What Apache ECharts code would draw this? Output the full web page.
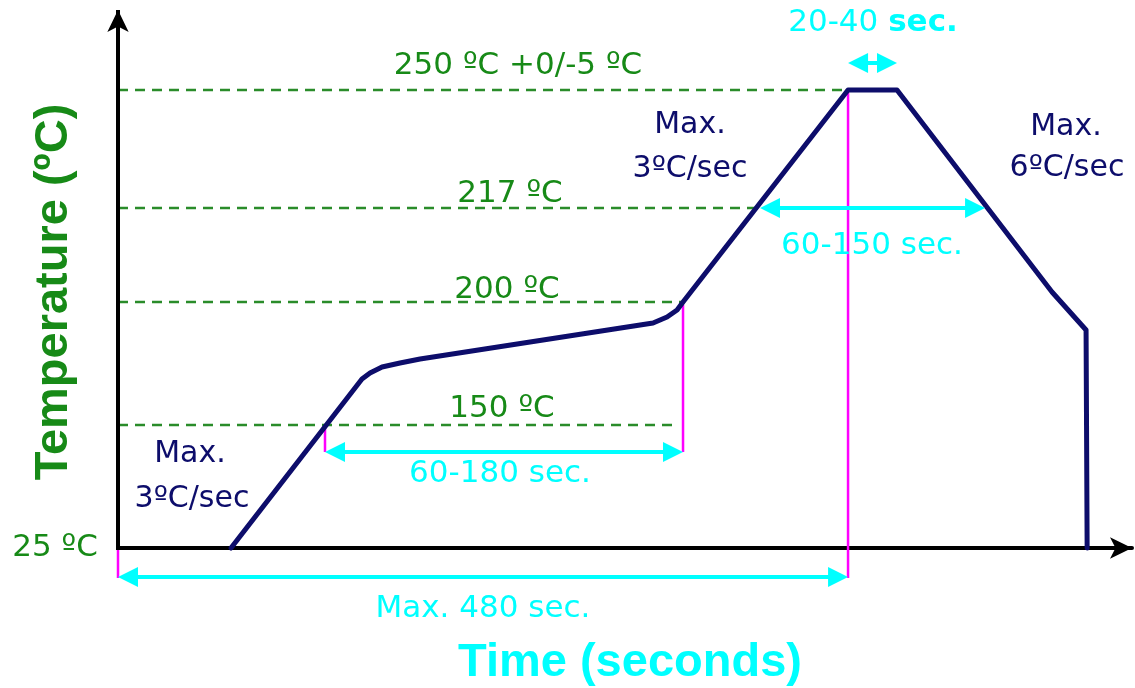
<!DOCTYPE html>
<html>
<head>
<meta charset="utf-8">
<script src="https://cdn.jsdelivr.net/npm/echarts@6/dist/echarts.min.js"></script>
<style>
html,body{margin:0;padding:0;background:#ffffff;}
#chart{width:1135px;height:688px;}
</style>
</head>
<body>
<div id="chart"></div>
<script>
// ---------------- data (schematic units: time-like x, height-above-25ºC y) ----------------
const levelLabels  = ['25 ºC', '150 ºC', '200 ºC', '217 ºC', '250 ºC +0/-5 ºC'];
const levelHeights = [0, 123, 246, 340, 458];
const levelLineEnds = [null, 367.6, 371.5, 422.1, 480];

const profileTime = [74.3, 160.4, 165.7, 173.6, 185.4, 198.6, 351.8, 361.0, 367.6, 371.5, 480, 512.2, 614.1, 636.5, 637.2];
const profileTemp = [0, 169, 175, 181, 185, 189, 225, 231, 238, 246, 458, 458, 256, 218, 0];

const intervalLabels = ['60-180 sec.', 'Max. 480 sec.', '60-150 sec.', '20-40 '];
const intervalStart  = [136.1, 0, 422.1, 480];
const intervalEnd    = [371.5, 480, 570.1, 512.2];
const intervalLevel  = [96, -29, 340, 485];

const markerTime = [0, 136.1, 371.5, 480];
const markerFrom = [0, 123, 243, 458];
const markerTo   = [-30, 96, 96, -30];

const rampLabels = ['Max.', '3ºC/sec', 'Max.', '3ºC/sec', 'Max.', '6ºC/sec'];
const xTitle = 'Time (seconds)';
const yTitle = 'Temperature (ºC)';

// ---------------- styles / layout ----------------
const GREEN = '#178a17', DASH_GREEN = '#2a8c2a', NAVY = '#0d0d6b', CYAN = '#00ffff', MAGENTA = '#ff00ff';
const REG = '31px "DejaVu Sans"';
const REG30 = '30px "DejaVu Sans"';
const TITLE = 'bold 47px "Liberation Sans"';
const X_MAX = 666.7, Y_MIN = -100, Y_MAX = 538;
const ARROW_HALF_PX = 10;                // half of the cyan arrowhead length
const PX_PER_X = 1014 / X_MAX;           // grid width / x range
const inset = ARROW_HALF_PX / PX_PER_X;

const chart = echarts.init(document.getElementById('chart'), null, {renderer: 'canvas'});

const series = [];

// dashed temperature levels
for (let i = 1; i < levelHeights.length; i++) {
  series.push({
    type: 'line', silent: true, symbol: 'none', z: 1,
    data: [[0, levelHeights[i]], [levelLineEnds[i], levelHeights[i]]],
    lineStyle: {color: DASH_GREEN, width: 2.5, type: [10, 7]}
  });
}
// magenta markers
for (let i = 0; i < markerTime.length; i++) {
  series.push({
    type: 'line', silent: true, symbol: 'none', z: 2,
    data: [[markerTime[i], markerFrom[i]], [markerTime[i], markerTo[i]]],
    lineStyle: {color: MAGENTA, width: 2.5}
  });
}
// profile
series.push({
  type: 'line', silent: true, symbol: 'none', z: 4,
  data: profileTime.map((t, i) => [t, profileTemp[i]]),
  lineStyle: {color: NAVY, width: 5, join: 'round', cap: 'round'}
});
// cyan interval arrows
series.push({
  type: 'line', silent: true, symbol: 'none', z: 5, data: [],
  markLine: {
    silent: true, animation: false,
    symbol: ['triangle', 'triangle'], symbolSize: [20, 20],
    label: {show: false},
    lineStyle: {color: CYAN, width: 4, type: 'solid'},
    emphasis: {disabled: true},
    data: intervalLabels.map((n, i) => [
      {coord: [intervalStart[i] + inset, intervalLevel[i]], itemStyle: {color: CYAN}},
      {coord: [intervalEnd[i] - inset, intervalLevel[i]], itemStyle: {color: CYAN}}
    ])
  }
});
// vertical (temperature) axis drawn with arrow
series.push({
  type: 'line', silent: true, symbol: 'none', z: 6, data: [],
  markLine: {
    silent: true, animation: false,
    symbol: ['none', 'arrow'], symbolSize: [16, 22],
    label: {show: false},
    lineStyle: {color: '#000', width: 4, type: 'solid'},
    emphasis: {disabled: true},
    data: [[{coord: [0, -2], itemStyle: {color: '#000'}}, {coord: [0, Y_MAX], itemStyle: {color: '#000'}}]]
  }
});

// text annotations
function txt(text, x, y, fill, font, extra) {
  return Object.assign({
    type: 'text', x: x, y: y, silent: true, z: 10,
    style: {text: text, fill: fill, font: font, align: 'center', verticalAlign: 'middle'}
  }, extra || {});
}
const levelPos = [[55, 548], [502, 409], [507, 290], [510, 194], [518, 66]];
const intervalPos = [[500, 474], [483, 609], [872, 246], [873, 23]];
const rampPos = [[190, 454], [192, 499], [690, 125], [690, 169], [1066, 127], [1067, 168]];

const graphics = [];
levelLabels.forEach((l, i) => graphics.push(txt(l, levelPos[i][0], levelPos[i][1], GREEN, REG)));
intervalLabels.forEach((l, i) => {
  if (i === 3) {
    graphics.push({
      type: 'text', x: intervalPos[i][0], y: intervalPos[i][1], silent: true, z: 10,
      style: {text: l + '{b|sec.}', fill: CYAN, font: REG, align: 'center', verticalAlign: 'middle',
        rich: {b: {font: 'bold 31px "DejaVu Sans"', fill: CYAN}}}
    });
  } else {
    graphics.push(txt(l, intervalPos[i][0], intervalPos[i][1], CYAN, REG));
  }
});
rampLabels.forEach((l, i) => graphics.push(txt(l, rampPos[i][0], rampPos[i][1], NAVY, REG30)));
graphics.push(txt(xTitle, 630, 663, CYAN, TITLE));
graphics.push(txt(yTitle, 54, 292, GREEN, TITLE, {rotation: Math.PI / 2}));

chart.setOption({
  animation: false,
  backgroundColor: '#ffffff',
  grid: {left: 118, right: 3, top: 10, bottom: 40, containLabel: false},
  xAxis: {
    type: 'value', min: 0, max: X_MAX,
    axisLine: {show: true, onZero: true, symbol: ['none', 'arrow'], symbolSize: [16, 22],
      lineStyle: {color: '#000', width: 4}},
    axisTick: {show: false}, axisLabel: {show: false}, splitLine: {show: false}
  },
  yAxis: {
    type: 'value', min: Y_MIN, max: Y_MAX,
    axisLine: {show: false}, axisTick: {show: false}, axisLabel: {show: false}, splitLine: {show: false}
  },
  series: series,
  graphic: graphics
});
</script>
</body>
</html>
